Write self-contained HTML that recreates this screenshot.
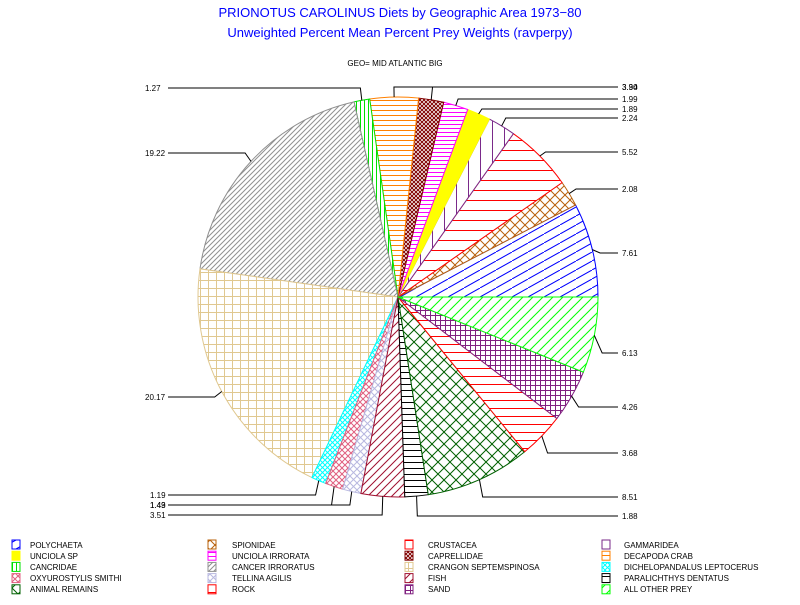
<!DOCTYPE html>
<html><head><meta charset="utf-8"><style>
body{margin:0;background:#fff;}
svg text{font-family:"Liberation Sans",sans-serif;}
</style></head><body>
<svg id="s" width="800" height="600" xmlns="http://www.w3.org/2000/svg">
<defs id="d"></defs>
<text x="400" y="17" text-anchor="middle" fill="#0000ff" font-size="13">PRIONOTUS CAROLINUS Diets by Geographic Area 1973−80</text>
<text x="400" y="37" text-anchor="middle" fill="#0000ff" font-size="13">Unweighted Percent Mean Percent Prey  Weights (ravperpy)</text>
<text x="395" y="66" text-anchor="middle" fill="#000" font-size="8">GEO= MID ATLANTIC BIG</text>
<g id="pie"></g>
<g font-size="8" fill="#000">
<text x="622" y="90">3.94</text><text x="622" y="90">3.30</text>
<text x="622" y="102">1.99</text><text x="622" y="112">1.89</text><text x="622" y="121">2.24</text>
<text x="622" y="155">5.52</text><text x="622" y="192">2.08</text><text x="622" y="256">7.61</text>
<text x="622" y="356">6.13</text><text x="622" y="410">4.26</text><text x="622" y="456">3.68</text>
<text x="622" y="500">8.51</text><text x="622" y="519">1.88</text>
<text x="145" y="91">1.27</text><text x="145" y="156">19.22</text><text x="145" y="400">20.17</text>
<text x="150" y="498">1.19</text><text x="150" y="508">1.43</text><text x="150" y="508">1.49</text><text x="150" y="518">3.51</text>
</g>
<g font-size="8" fill="#000">
<text x="30" y="548">POLYCHAETA</text><text x="30" y="559">UNCIOLA SP</text><text x="30" y="570">CANCRIDAE</text><text x="30" y="581">OXYUROSTYLIS SMITHI</text><text x="30" y="592">ANIMAL REMAINS</text>
<text x="232" y="548">SPIONIDAE</text><text x="232" y="559">UNCIOLA IRRORATA</text><text x="232" y="570">CANCER IRRORATUS</text><text x="232" y="581">TELLINA AGILIS</text><text x="232" y="592">ROCK</text>
<text x="428" y="548">CRUSTACEA</text><text x="428" y="559">CAPRELLIDAE</text><text x="428" y="570">CRANGON SEPTEMSPINOSA</text><text x="428" y="581">FISH</text><text x="428" y="592">SAND</text>
<text x="624" y="548">GAMMARIDEA</text><text x="624" y="559">DECAPODA CRAB</text><text x="624" y="570">DICHELOPANDALUS LEPTOCERUS</text><text x="624" y="581">PARALICHTHYS DENTATUS</text><text x="624" y="592">ALL OTHER PREY</text>
</g>
<g id="leg"></g>
</svg>
<script>
var NS="http://www.w3.org/2000/svg";
function el(t,a,p){var e=document.createElementNS(NS,t);for(var k in a)e.setAttribute(k,a[k]);p.appendChild(e);return e;}
var d=document.getElementById('d');
function pat(id,c,type,sp){
 var p=el('pattern',{id:id,width:sp,height:sp,patternUnits:'userSpaceOnUse'},d);
 el('rect',{width:sp,height:sp,fill:type=='s'?c:'#fff'},p);
 var A={stroke:c,'stroke-width':1,fill:'none'};
 function L(x1,y1,x2,y2){var o=Object.assign({x1:x1,y1:y1,x2:x2,y2:y2},A);el('line',o,p);}
 if(type=='h'||type=='g')L(0,0.5,sp,0.5);
 if(type=='v'||type=='g')L(0.5,0,0.5,sp);
 if(type=='d'||type=='x'){L(0,sp,sp,0);L(-1,1,1,-1);L(sp-1,sp+1,sp+1,sp-1);}
 if(type=='b'||type=='x'){L(0,0,sp,sp);L(-1,sp-1,1,sp+1);L(sp-1,-1,sp+1,1);}
}
var S=[
['POLY',7.61,'#0000ff','l',9],['SPIO',2.08,'#b8600a','x',10],['CRUS',5.52,'#ff0000','h',10],['GAMM',2.24,'#7a2a8a','v',12],
['UNSP',1.89,'#ffff00','s',4],['UNIR',1.99,'#ff00ff','h',4],['CAPR',2.03,'#800000','x',4],['DECA',3.90,'#ff8000','h',5],
['CANC',1.27,'#00e000','v',4],['CAIR',19.22,'#909090','d',5],['CRAN',20.17,'#e0c890','g',8],['DICH',1.19,'#00ffff','x',5],
['OXYU',1.43,'#e06080','x',6],['TELL',1.49,'#b8b8e0','x',7],['FISH',3.51,'#a01030','d',8],['PARA',1.88,'#000000','h',6],
['ANIM',8.51,'#006000','x',12],['ROCK',3.68,'#ff0000','h',8],['SAND',4.26,'#802080','g',5],['ALLO',6.13,'#00ff00','d',10]];
S.forEach(function(s){pat('p'+s[0],s[2],s[3],s[4]);});
(function(){var p=document.getElementById('pPOLY');p.innerHTML='';p.setAttribute('width',16);p.setAttribute('height',9);
el('rect',{width:16,height:9,fill:'#fff'},p);el('line',{x1:0,y1:9,x2:16,y2:0,stroke:'#0000ff'},p);})();
var tot=0;S.forEach(function(s){tot+=s[1];});
var cx=398,cy=297,r=200,a=0,g=document.getElementById('pie');
function P(ang,rr){return [cx+rr*Math.cos(ang),cy-rr*Math.sin(ang)];}
var mids=[];
S.forEach(function(s){var da=s[1]/tot*2*Math.PI,b=a+da;var p1=P(a,r),p2=P(b,r);
 el('path',{d:'M'+cx+','+cy+'L'+p1[0]+','+p1[1]+'A'+r+','+r+' 0 '+(da>Math.PI?1:0)+' 0 '+p2[0]+','+p2[1]+'Z',fill:'url(#p'+s[0]+')',stroke:s[2],'stroke-width':1},g);
 mids.push((a+b)/2);a=b;});
var LY={POLY:253,SPIO:189,CRUS:152,GAMM:118,UNSP:109,UNIR:99,CAPR:87,DECA:87,CANC:88,CAIR:153,CRAN:397,DICH:495,OXYU:505,TELL:505,FISH:515,PARA:516,ANIM:497,ROCK:453,SAND:407,ALLO:353};
S.forEach(function(s,i){var m=mids[i],p=P(m,r),q=P(m,r+8),y=LY[s[0]];var right=Math.cos(m)>0||s[0]=='PARA'||s[0]=='ANIM';
 if(s[0]=='DECA'||s[0]=='CAPR'||s[0]=='UNIR')right=true;
 var x2=right?618:168;
 el('polyline',{points:p[0]+','+p[1]+' '+q[0]+','+y+' '+x2+','+y,fill:'none',stroke:'#000','stroke-width':1},g);});
var lg=document.getElementById('leg');
var cols=[12,208,405,602],order=['POLY','UNSP','CANC','OXYU','ANIM','SPIO','UNIR','CAIR','TELL','ROCK','CRUS','CAPR','CRAN','FISH','SAND','GAMM','DECA','DICH','PARA','ALLO'];
order.forEach(function(k,i){var s=S.filter(function(z){return z[0]==k;})[0];var c=Math.floor(i/5),rw=i%5;
 el('rect',{x:cols[c],y:540+rw*11.2,width:8,height:9,fill:'url(#p'+k+')',stroke:s[2]},lg);});
</script>
</body></html>
